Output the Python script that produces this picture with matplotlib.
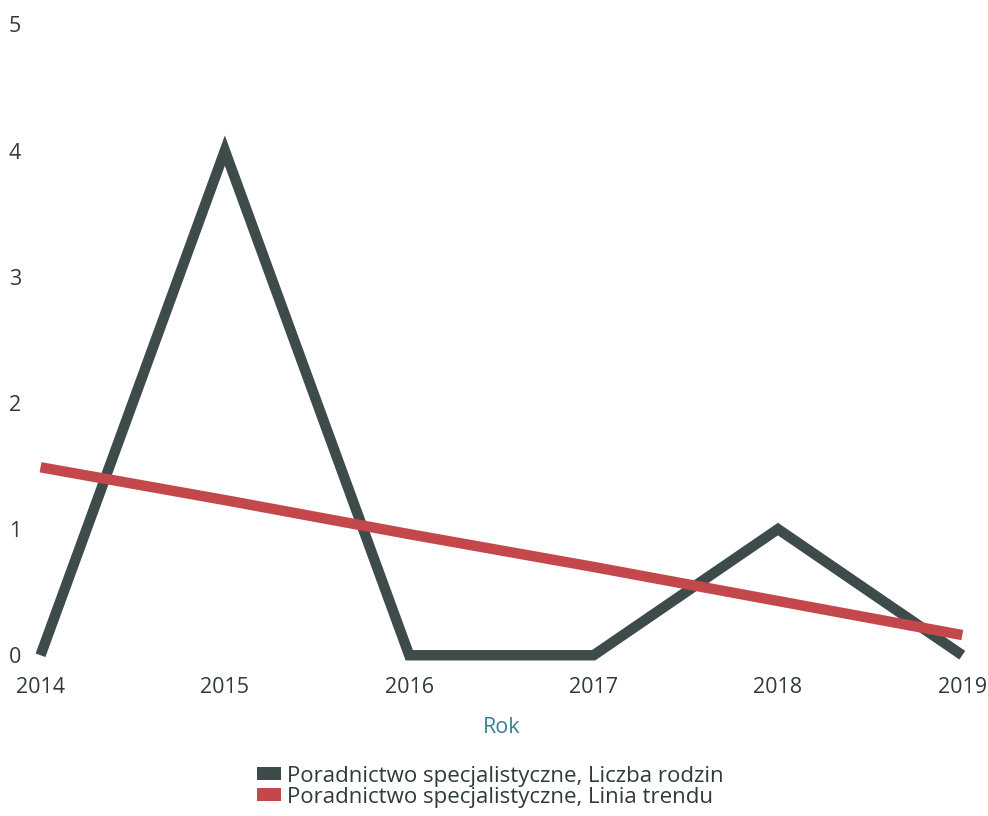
import matplotlib.pyplot as plt
from matplotlib.patches import Patch

plt.rcParams['font.family'] = ['Open Sans', 'DejaVu Sans']

years = [2014, 2015, 2016, 2017, 2018, 2019]
families = [0, 4, 0, 0, 1, 0]
trend = [1.49, 1.23, 0.96, 0.70, 0.43, 0.16]
y_ticks = [0, 1, 2, 3, 4, 5]
labels = ['Poradnictwo specjalistyczne, Liczba rodzin',
          'Poradnictwo specjalistyczne, Linia trendu']

grey = '#3e4b4b'
red = '#c4474b'
text_col = '#2f3a3c'

fig = plt.figure(figsize=(9.88, 8.16), dpi=100)
ax = fig.add_axes([0.041, 0.197, 0.933, 0.773])

ax.plot(years, families, color=grey, linewidth=7.5, solid_capstyle='butt',
        solid_joinstyle='miter', clip_on=False, zorder=2)
ax.plot(years, trend, color=red, linewidth=7.5, solid_capstyle='butt',
        clip_on=False, zorder=3)

ax.set_xlim(2014, 2019)
ax.set_ylim(0, 5)
ax.set_xticks(years)
ax.set_yticks(y_ticks)
ax.tick_params(length=0, labelsize=15.5, colors=text_col)
ax.tick_params(axis='x', pad=16)
ax.tick_params(axis='y', pad=14)
for s in ax.spines.values():
    s.set_visible(False)

ax.set_xlabel('Rok', fontsize=15.5, color='#3b8092', labelpad=13)

handles = [Patch(facecolor=grey), Patch(facecolor=red)]
fig.legend(handles, labels, loc='center', bbox_to_anchor=(0.496, 0.036),
           frameon=False, fontsize=16, labelcolor=text_col,
           handlelength=1.1, handleheight=0.55, handletextpad=0.25,
           labelspacing=0.0)

fig.savefig('out.png', dpi=100)
